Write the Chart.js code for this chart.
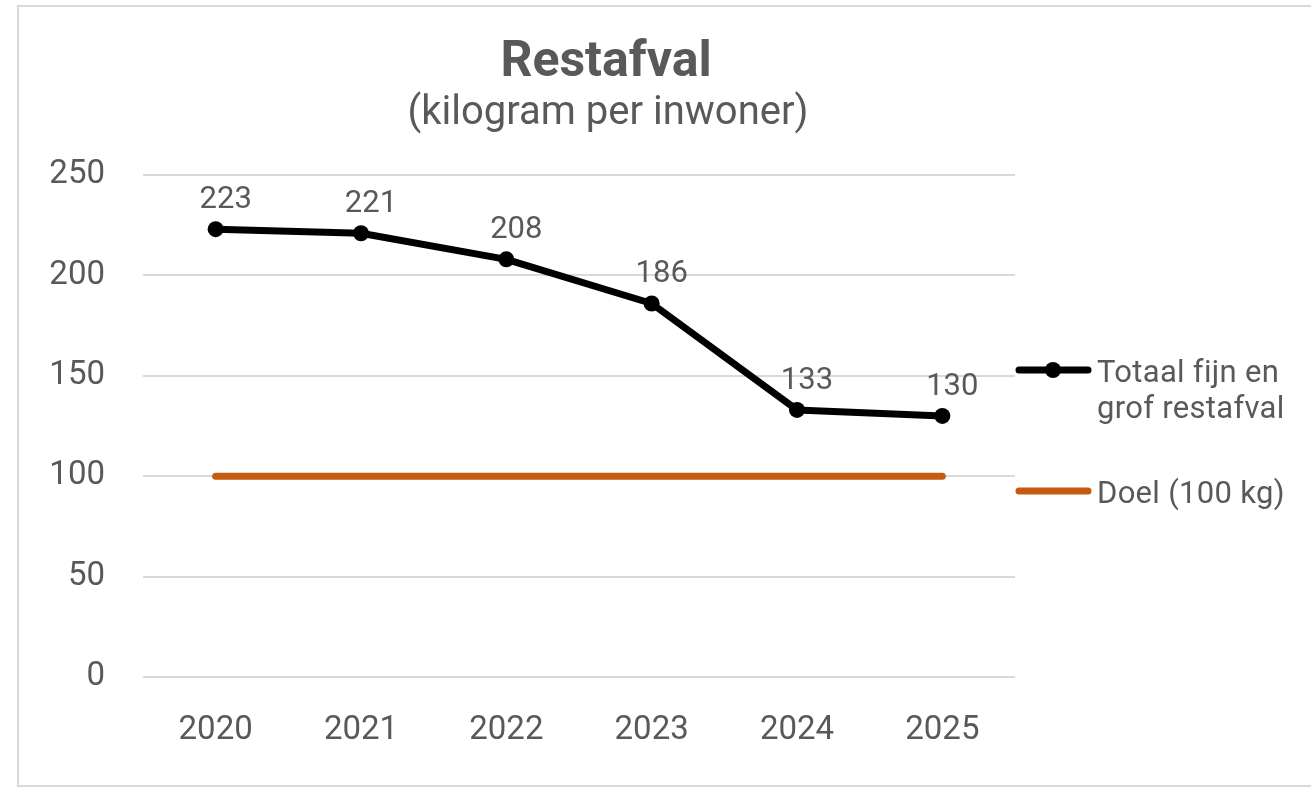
<!DOCTYPE html>
<html>
<head>
<meta charset="utf-8">
<script src="https://cdn.jsdelivr.net/npm/chart.js@4.4.0/dist/chart.umd.min.js"></script>
<style>
  html, body { margin: 0; padding: 0; background: #fff; }
  #wrap { width: 1311px; height: 789px; position: relative; }
</style>
</head>
<body>
<div id="wrap"><canvas id="myChart" width="1311" height="789"></canvas></div>
<script>
const years = ["2020", "2021", "2022", "2023", "2024", "2025"];
const restafval = [223, 221, 208, 186, 133, 130];
const doel = [100, 100, 100, 100, 100, 100];
const yTicks = [0, 50, 100, 150, 200, 250];

const grey = "#595959";
const font = "Roboto, 'DejaVu Sans', sans-serif";

// title, border, point labels and legend are drawn by hand
const extras = {
  id: "extras",
  beforeDraw(chart) {
    const c = chart.ctx;
    c.save();
    c.strokeStyle = "#d9d9d9";
    c.lineWidth = 2;
    c.strokeRect(18, 6, 1320, 780);
    c.restore();
  },
  afterDraw(chart) {
    const c = chart.ctx;
    c.save();
    c.fillStyle = grey;
    c.textAlign = "center";
    c.textBaseline = "middle";
    c.font = "bold 50px " + font;
    c.fillText("Restafval", 606, 63);
    c.font = "40px " + font;
    c.fillText("(kilogram per inwoner)", 608, 114);

    // value labels above the points
    c.font = "31px " + font;
    const meta = chart.getDatasetMeta(0);
    meta.data.forEach(function(pt, i) {
      c.fillText(String(restafval[i]), pt.x + 10, pt.y - 29);
    });

    // legend
    c.lineCap = "round";
    c.lineWidth = 7;
    c.strokeStyle = "#000";
    c.beginPath(); c.moveTo(1019, 370); c.lineTo(1088, 370); c.stroke();
    c.fillStyle = "#000";
    c.beginPath(); c.arc(1053, 370, 8, 0, Math.PI * 2); c.fill();
    c.strokeStyle = "#C55A11";
    c.beginPath(); c.moveTo(1019, 491); c.lineTo(1088, 491); c.stroke();
    c.fillStyle = grey;
    c.textAlign = "left";
    c.font = "31px " + font;
    c.letterSpacing = "0.3px";
    c.fillText("Totaal fijn en", 1097, 374);
    c.fillText("grof restafval", 1097, 410);
    c.fillText("Doel (100 kg)", 1097, 495);
    c.restore();
  }
};

const ctx = document.getElementById("myChart").getContext("2d");
const chart = new Chart(ctx, {
  type: "line",
  data: {
    labels: years,
    datasets: [
      {
        label: "Totaal fijn en grof restafval",
        data: restafval,
        borderColor: "#000",
        backgroundColor: "#000",
        borderWidth: 7,
        pointRadius: 8,
        pointBackgroundColor: "#000",
        pointBorderWidth: 0,
        tension: 0,
        borderCapStyle: "round",
        borderJoinStyle: "round"
      },
      {
        label: "Doel (100 kg)",
        data: doel,
        borderColor: "#C55A11",
        backgroundColor: "#C55A11",
        borderWidth: 7,
        pointRadius: 0,
        borderCapStyle: "round"
      }
    ]
  },
  options: {
    responsive: false,
    animation: false,
    events: [],
    layout: { padding: { left: 20, right: 296, top: 175, bottom: 12 } },
    plugins: {
      legend: { display: false },
      title: { display: false },
      tooltip: { enabled: false }
    },
    scales: {
      x: {
        offset: true,
        grid: { display: false },
        border: { display: false },
        ticks: { color: grey, font: { family: font, size: 33 }, padding: 26 },
        afterFit(scale) { scale.height = 100; }
      },
      y: {
        min: 0,
        max: 250,
        afterBuildTicks(scale) { scale.ticks = yTicks.map(v => ({ value: v })); },
        grid: { color: "#d9d9d9", lineWidth: 2, drawTicks: false },
        border: { display: false },
        ticks: { color: grey, font: { family: font, size: 33 }, padding: 38 },
        afterFit(scale) { scale.width = 123; }
      }
    }
  },
  plugins: [extras]
});
</script>
</body>
</html>
